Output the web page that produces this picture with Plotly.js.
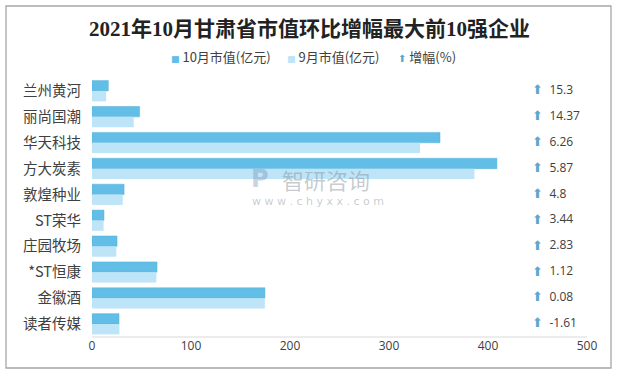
<!DOCTYPE html>
<html>
<head>
<meta charset="utf-8">
<script src="https://cdn.plot.ly/plotly-3.0.1.min.js"></script>
<style>html,body{margin:0;padding:0;background:#fff;}#chart{width:634px;height:378px;}</style>
</head>
<body>
<div id="chart"></div>
<script>
const companies = ['兰州黄河','丽尚国潮','华天科技','方大炭素','敦煌种业','ST荣华','庄园牧场','*ST恒康','金徽酒','读者传媒'];
const octValue = [16.5, 48.1, 351.5, 409.0, 32.4, 12.1, 25.3, 65.7, 174.7, 27.3];
const sepValue = [14.3, 42.1, 331.3, 386.3, 31.0, 11.7, 24.6, 65.0, 174.6, 27.7];
const growth = [15.3, 14.37, 6.26, 5.87, 4.8, 3.44, 2.83, 1.12, 0.08, -1.61];
const growthLabels = ['15.3','14.37','6.26','5.87','4.8','3.44','2.83','1.12','0.08','-1.61'];
const seriesNames = ['10月市值(亿元)','9月市值(亿元)','增幅(%)'];
const xTicks = [0, 100, 200, 300, 400, 500];
const arrowColumnX = 450;
const labelColumnX = 462;

const octColor = '#62bee6', sepColor = '#bde4f7', arrowColor = '#5aa7cf';
const cjk = '"Noto Sans CJK SC", "Microsoft YaHei", sans-serif';
const latin = '"Open Sans", "Noto Sans", sans-serif';
const arrowGlyph = '⬆';

const traces = [
  {type:'bar', orientation:'h', name:seriesNames[0], y:companies, x:octValue, showlegend:false,
   marker:{color:octColor, line:{color:'#55b0d8', width:0.5}}},
  {type:'bar', orientation:'h', name:seriesNames[1], y:companies, x:sepValue, showlegend:false,
   marker:{color:sepColor}},
  {type:'scatter', mode:'text', name:seriesNames[2], showlegend:false, y:companies,
   x:companies.map(()=>arrowColumnX), customdata:growth,
   text:companies.map(()=>arrowGlyph), textposition:'middle center',
   textfont:{family:'"DejaVu Sans", sans-serif', size:13, color:arrowColor}, cliponaxis:false},
  {type:'scatter', mode:'text', showlegend:false, y:companies, x:companies.map(()=>labelColumnX),
   text:growthLabels, textposition:'middle right',
   textfont:{family:latin, size:12, color:'#404040'}, cliponaxis:false}
];

const W = 495, H = 259, L = 92, T = 78;
const px = v => (v - L) / W;
const py = v => 1 - (v - T) / H;

function legendItem(xpix, glyph, glyphColor, glyphFont, glyphSize, label) {
  return {xref:'paper', yref:'paper', x:px(xpix), y:py(57), xanchor:'left', yanchor:'middle', showarrow:false,
    borderpad:0,
    text:'<span style="color:'+glyphColor+';font-family:'+glyphFont+';font-size:'+glyphSize+'px">'+glyph+'</span> '+label,
    font:{family:cjk, size:13, color:'#404040'}};
}

const layout = {
  width:634, height:378,
  margin:{l:L, r:47, t:T, b:41},
  paper_bgcolor:'#ffffff', plot_bgcolor:'#ffffff',
  showlegend:false,
  title:{text:'2021年10月甘肃省市值环比增幅最大前10强企业',
         font:{family:'"Liberation Serif", "Noto Sans CJK SC", serif', size:21, color:'#222222', weight:'bold'},
         x:309.5/634, xref:'container', xanchor:'center', y:1-29/378, yref:'container', yanchor:'middle'},
  barmode:'group', bargap:0.2, bargroupgap:0,
  xaxis:{range:[0,500], tickvals:xTicks, ticktext:xTicks.map(String), showgrid:false, zeroline:false,
         showline:false, ticks:'', tickfont:{family:latin, size:12, color:'#404040'}, fixedrange:true},
  yaxis:{type:'category', autorange:'reversed', showgrid:false, zeroline:false, showline:false, ticks:'',
         ticklabelstandoff:10, tickfont:{family:cjk, size:14.5, color:'#404040'}, fixedrange:true},
  shapes:[
    {type:'rect', xref:'paper', yref:'paper', x0:px(6), x1:px(611), y0:py(368), y1:py(6),
     line:{color:'#a6a6a6', width:1.3}, fillcolor:'rgba(0,0,0,0)', layer:'below'},
    {type:'line', xref:'paper', yref:'paper', x0:0, x1:1, y0:0, y1:0, line:{color:'#d9d9d9', width:1}}
  ],
  annotations:[
    legendItem(170, '■', octColor, 'DejaVu Sans', 9, seriesNames[0]),
    legendItem(286, '■', sepColor, 'DejaVu Sans', 9, seriesNames[1]),
    legendItem(397, arrowGlyph, arrowColor, 'DejaVu Sans', 10, seriesNames[2]),
    {xref:'paper', yref:'paper', x:px(280), y:py(179), xanchor:'left', yanchor:'middle', showarrow:false,
     text:'智研咨询', font:{family:cjk, size:22, color:'rgba(130,140,150,0.45)'}},
    {xref:'paper', yref:'paper', x:px(249), y:py(179), xanchor:'left', yanchor:'middle', showarrow:false,
     text:'<b>P</b>', font:{family:'"DejaVu Sans", sans-serif', size:24, color:'rgba(120,140,175,0.4)'}},
    {xref:'paper', yref:'paper', x:px(318), y:py(201), xanchor:'center', yanchor:'middle', showarrow:false,
     text:'w w w . c h y x x . c o m', font:{family:'"DejaVu Sans", sans-serif', size:11, color:'rgba(130,140,150,0.45)'}}
  ]
};

Plotly.newPlot('chart', traces, layout, {displayModeBar:false, staticPlot:true});
</script>
</body>
</html>
